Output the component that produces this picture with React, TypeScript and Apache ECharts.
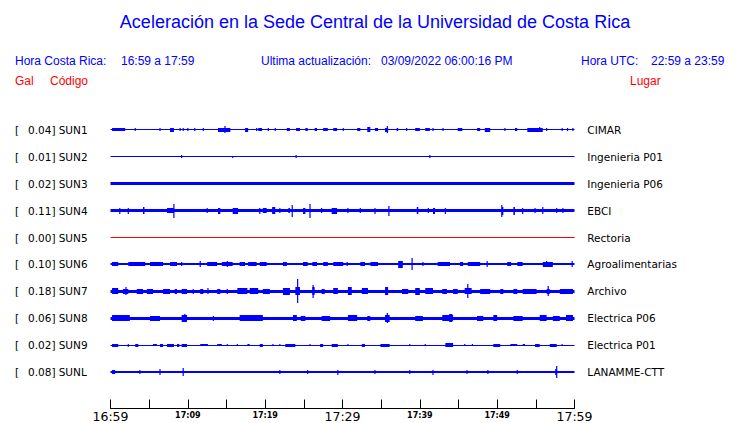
import React, { useEffect, useRef } from "react";
import * as echarts from "echarts";

// ---- data ----
const TITLE = "Aceleración en la Sede Central de la Universidad de Costa Rica";
const TIME_LABELS = ["16:59", "17:09", "17:19", "17:29", "17:39", "17:49", "17:59"];
const CODES = ["SUN1", "SUN2", "SUN3", "SUN4", "SUN5", "SUN6", "SUN7", "SUN8", "SUN9", "SUNL"];
const GAL = ["0.04", "0.01", "0.02", "0.11", "0.00", "0.10", "0.18", "0.06", "0.02", "0.08"];
const PLACES = ["CIMAR", "Ingenieria P01", "Ingenieria P06", "EBCI", "Rectoria", "Agroalimentarias", "Archivo", "Electrica P06", "Electrica P01", "LANAMME-CTT"];
// background noise half-amplitude of each trace
const NOISE = [0.5, 0.5, 1.7, 1.4, 0.5, 1.0, 1.4, 1.8, 0.5, 1.3];
// bursts: [start minute, end minute, half-amplitude]
const BURSTS_SUN1 = [[0.2,1.9,1.5],[3.2,3.2,1.5],[6.4,6.4,1.5],[7.7,8.2,2.2],[9.0,9.0,1.5],[9.4,9.4,1.5],[10.0,10.0,1.5],[10.9,10.9,1.5],[12.0,12.0,1.5],[13.9,15.5,2],[14.8,14.8,3.5],[17.4,17.8,2],[18.9,18.9,1.5],[19.1,19.6,1.5],[20.4,20.4,1.5],[21.3,21.3,1.5],[22.8,23.2,1.5],[24.0,24.5,1.5],[25.2,25.5,1.5],[26.4,26.7,1.5],[27.5,28.1,1.5],[28.8,29.3,1.5],[30.1,30.1,1.5],[31.9,32.3,1.5],[33.2,33.6,2.5],[34.2,34.6,1.5],[35.5,35.9,2],[35.8,35.8,3.5],[37.0,37.2,1.5],[38.3,38.3,1.5],[39.4,40.0,1.5],[40.7,41.3,1.5],[41.7,41.7,1.5],[43.0,43.0,1.5],[44.9,45.5,1.5],[47.4,47.8,1.5],[48.4,49.1,2.2],[51.0,51.0,1.5],[52.3,52.6,1.5],[53.9,55.9,2],[55.5,55.5,2.5],[56.4,56.4,1.5],[58.4,58.4,1.5],[59.1,59.1,1.5],[59.8,59.8,1.5]];
const BURSTS_SUN2 = [[9.2,9.2,1.5],[15.8,15.8,1.2],[24.0,24.0,1.5],[41.3,41.3,1.5]];
const BURSTS_SUN3 = [[3.1,3.1,1.2]];
const BURSTS_SUN4 = [[1.2,1.2,3],[2.3,2.3,3],[4.2,4.4,3.5],[7.3,8.2,2.5],[8.2,8.2,7],[12.5,12.5,2.5],[13.9,14.2,3],[15.8,16.5,3],[19.3,19.3,3],[19.7,20.2,2.5],[20.9,21.3,3.5],[21.9,21.9,2.5],[23.0,23.2,2.5],[23.5,23.5,6],[24.9,25.2,3],[25.8,25.8,7],[27.3,27.3,2.5],[28.6,29.3,3],[30.7,30.7,2.5],[32.3,32.3,2.5],[34.2,34.2,3],[36.0,36.0,5],[39.6,39.8,3.5],[41.1,41.1,2.5],[41.7,41.96,3],[43.3,43.3,3],[50.6,50.8,4],[50.6,50.6,6],[52.1,52.3,4],[53.3,53.3,3],[54.9,54.9,2.5],[55.9,55.9,3.5],[57.7,57.7,2.5],[58.5,58.5,2.5]];
const BURSTS_SUN5: number[][] = [];
const BURSTS_SUN6 = [[0.2,1.0,2],[2.3,4.5,2],[5.1,6.8,2],[7.7,8.6,2],[9.2,9.2,2],[11.6,11.6,3],[12.5,13.8,2],[14.4,15.8,2],[15.1,15.1,3],[16.7,17.4,2],[17.8,18.9,2],[19.3,20.2,2],[22.3,22.8,2],[24.9,25.5,2],[26.1,26.7,2],[27.5,28.1,2],[28.8,30.1,2],[30.6,30.6,2],[32.3,32.9,2],[33.6,34.6,2],[37.2,37.8,3.5],[39.0,39.0,6],[40.4,40.4,2],[42.3,43.9,2],[45.2,45.6,2],[46.2,47.8,2],[48.7,48.7,3],[51.3,51.8,2],[52.6,53.3,2],[55.9,57.2,2.5],[56.4,56.4,3],[59.7,59.7,3]];
const BURSTS_SUN7 = [[0.2,1.0,3],[1.6,2.3,2.5],[2.0,2.0,4],[3.4,4.2,2.5],[4.7,5.5,2.5],[6.8,7.7,2.5],[8.3,8.6,2.5],[9.2,9.9,2.5],[10.7,10.7,2.5],[11.6,12.0,2.5],[12.6,12.6,3],[13.8,14.2,2.5],[15.1,15.1,2.5],[16.4,17.7,3],[18.0,19.1,3],[19.7,20.6,2.5],[22.3,23.2,3.5],[23.9,24.5,4],[24.2,24.2,12],[26.1,26.4,4],[26.2,26.2,6.5],[27.3,27.7,2.5],[28.8,29.4,3],[30.7,31.2,4],[32.5,33.3,3],[35.5,35.9,4],[37.7,38.5,2.5],[39.4,40.0,3.5],[40.7,41.7,3],[42.9,43.5,2.5],[44.3,44.9,2.5],[45.8,46.7,3],[46.2,46.2,7],[47.8,49.1,2.5],[50.4,50.8,2.5],[52.1,52.6,2.5],[53.3,55.1,2.5],[56.4,56.8,2.5],[56.6,56.6,5],[58.1,59.8,2.5]];
const BURSTS_SUN8 = [[0.2,2.5,3],[5.1,6.4,2.5],[9.2,9.9,3.5],[9.6,9.6,4],[13.3,13.3,2.5],[16.7,18.9,3],[18.0,19.7,3],[23.6,24.1,3],[24.6,25.2,2.5],[27.3,28.4,2.5],[30.7,31.9,3],[33.2,33.6,2.5],[35.5,36.1,3.5],[35.8,35.8,5],[39.4,40.4,2.5],[42.9,44.3,3],[43.8,44.2,4],[47.4,48.2,2.5],[49.5,50.0,3],[52.1,53.3,2.5],[55.5,56.4,3],[57.2,58.1,2.5],[58.9,59.8,3]];
const BURSTS_SUN9 = [[0.2,1.0,1.5],[2.3,2.3,1.5],[3.2,3.6,1.5],[5.5,6.0,1.2],[6.4,6.8,1.5],[7.3,8.2,1.5],[8.6,8.9,1.5],[9.2,9.9,1.5],[11.6,12.6,1.2],[13.8,14.4,1.2],[15.1,15.1,1.2],[16.4,16.4,1.2],[17.7,18.0,1.2],[19.3,19.7,1.5],[21.0,21.0,1.2],[21.9,21.9,1.2],[22.6,23.9,1.5],[25.8,25.8,1.2],[27.1,27.5,1.5],[28.6,29.4,1.5],[30.7,30.7,1.2],[32.5,32.9,1.5],[34.9,36.1,1.5],[38.7,38.7,1.2],[40.7,40.7,1.2],[43.3,44.3,2],[45.8,45.8,1.2],[46.8,46.8,1.2],[49.5,50.4,1.5],[51.7,52.6,1.2],[53.3,53.6,1.2],[54.9,55.5,1.5],[56.8,57.7,1.5],[58.4,58.4,1.2]];
const BURSTS_SUNL = [[0.2,0.6,2],[3.8,3.8,2],[6.4,6.4,3],[9.4,9.4,4],[21.9,21.9,2],[25.5,25.5,2],[29.4,29.4,2.5],[34.2,34.2,2],[38.7,38.7,2],[41.7,41.7,2.5],[46.1,46.1,2],[48.8,48.8,2],[52.6,52.6,2],[57.5,57.7,3],[57.7,57.7,6]];
const BURSTS = [BURSTS_SUN1, BURSTS_SUN2, BURSTS_SUN3, BURSTS_SUN4, BURSTS_SUN5, BURSTS_SUN6, BURSTS_SUN7, BURSTS_SUN8, BURSTS_SUN9, BURSTS_SUNL];
const TRACE_COLORS = ["#0000ff", "#0000ff", "#0000ff", "#0000ff", "#ff0000", "#0000ff", "#0000ff", "#0000ff", "#0000ff", "#0000ff"];

const ROW_GAP = 27; // amplitude units between trace baselines
const BLUE = "#0000ff";
const RED = "#ff0000";
const SANS = "'Liberation Sans', Arial, sans-serif";
const DEJAVU = "'DejaVu Sans', sans-serif";

export default function App() {
  const ref = useRef<HTMLDivElement>(null);
  useEffect(() => {
    if (!ref.current) return;
    const chart = echarts.init(ref.current, null, { renderer: "svg" });
    const series = CODES.map((code, i) => ({
      type: "custom",
      name: code,
      clip: false,
      color: TRACE_COLORS[i],
      itemStyle: { color: TRACE_COLORS[i] },
      encode: { x: [0, 1], y: 2 },
      data: [[0, 60, NOISE[i]], ...BURSTS[i]],
      renderItem: (params: any, api: any) => {
        const color = TRACE_COLORS[i];
        const s = api.value(0);
        const e = api.value(1);
        const a = api.value(2);
        const base = i * ROW_GAP;
        const p1 = api.coord([s, base - a]);
        const p2 = api.coord([e, base + a]);
        const top = Math.round(Math.min(p1[1], p2[1]));
        const bot = Math.round(Math.max(p1[1], p2[1]));
        const h = bot - top;
        if (h <= 1) {
          // thin horizontal trace
          return {
            type: "line",
            shape: { x1: p1[0], y1: top + 0.5, x2: p2[0], y2: top + 0.5 },
            style: { stroke: color, lineWidth: 1, fill: "none" },
          };
        }
        let x = p1[0];
        let w = p2[0] - p1[0];
        if (w < 1.2) {
          x = p1[0] - 0.6;
          w = 1.2;
        }
        return {
          type: "rect",
          shape: { x, y: top, width: w, height: h },
          style: { fill: color, stroke: "none", lineWidth: 0 },
        };
      },
    }));
    chart.setOption({
      animation: false,
      grid: { left: 110.5, right: 165.5, top: 103, height: 306 },
      xAxis: {
        type: "value",
        min: 0,
        max: 60,
        interval: 5,
        axisLine: { show: true, onZero: false, lineStyle: { color: "#000", width: 1 } },
        axisTick: { show: true, inside: true, length: 8.5, lineStyle: { color: "#000" } },
        splitLine: { show: false },
        axisLabel: {
          margin: 2,
          color: "#000",
          showMinLabel: true,
          showMaxLabel: true,
          formatter: (v: number) => {
            if (v % 10 !== 0) return "";
            const lab = TIME_LABELS[v / 10];
            return v % 30 === 0 ? `{b|${lab}}` : `{s|${lab}}`;
          },
          rich: {
            b: { fontFamily: DEJAVU, fontSize: 12.5, color: "#000" },
            s: { fontFamily: DEJAVU, fontSize: 8, fontWeight: "bold", color: "#000", padding: [1, 0, 0, 0] },
          },
        },
      },
      yAxis: { type: "value", inverse: true, min: -ROW_GAP, max: ROW_GAP * 31 / 3, show: false },
      series,
    });

    const graphic: any[] = [];
    const txt = (text: string, x: number, y: number, fill: string, font: string, size: number, align = "left") => ({
      type: "text",
      x,
      y,
      style: { text, fill, fontFamily: font, fontSize: size, textAlign: align, textVerticalAlign: "middle" },
    });
    graphic.push(txt(TITLE, 375, 22, BLUE, SANS, 18, "center"));
    graphic.push(txt("Hora Costa Rica:", 15, 61, BLUE, SANS, 12));
    graphic.push(txt("16:59 a 17:59", 121, 61, BLUE, SANS, 12));
    graphic.push(txt("Ultima actualización:", 261, 61, BLUE, SANS, 12));
    graphic.push(txt("03/09/2022 06:00:16 PM", 381, 61, BLUE, SANS, 12));
    graphic.push(txt("Hora UTC:", 581, 61, BLUE, SANS, 12));
    graphic.push(txt("22:59 a 23:59", 651, 61, BLUE, SANS, 12));
    graphic.push(txt("Gal", 15, 81, RED, SANS, 12));
    graphic.push(txt("Código", 50, 81, RED, SANS, 12));
    graphic.push(txt("Lugar", 630, 81, RED, SANS, 12));
    CODES.forEach((code, i) => {
      const y = chart.convertToPixel({ yAxisIndex: 0 } as any, i * ROW_GAP) as number;
      graphic.push(txt("[", 15, y, "#000", DEJAVU, 10.5));
      graphic.push(txt(GAL[i] + "]", 55.5, y, "#000", DEJAVU, 10.5, "right"));
      graphic.push(txt(code, 58.7, y, "#000", DEJAVU, 10.5));
      graphic.push(txt(PLACES[i], 587.3, y, "#000", DEJAVU, 10.5));
    });
    chart.setOption({ graphic });
    return () => chart.dispose();
  }, []);
  return (
    <div
      ref={ref}
      style={{ position: "fixed", left: 0, top: 0, width: 740, height: 423, background: "#fff" }}
    />
  );
}
